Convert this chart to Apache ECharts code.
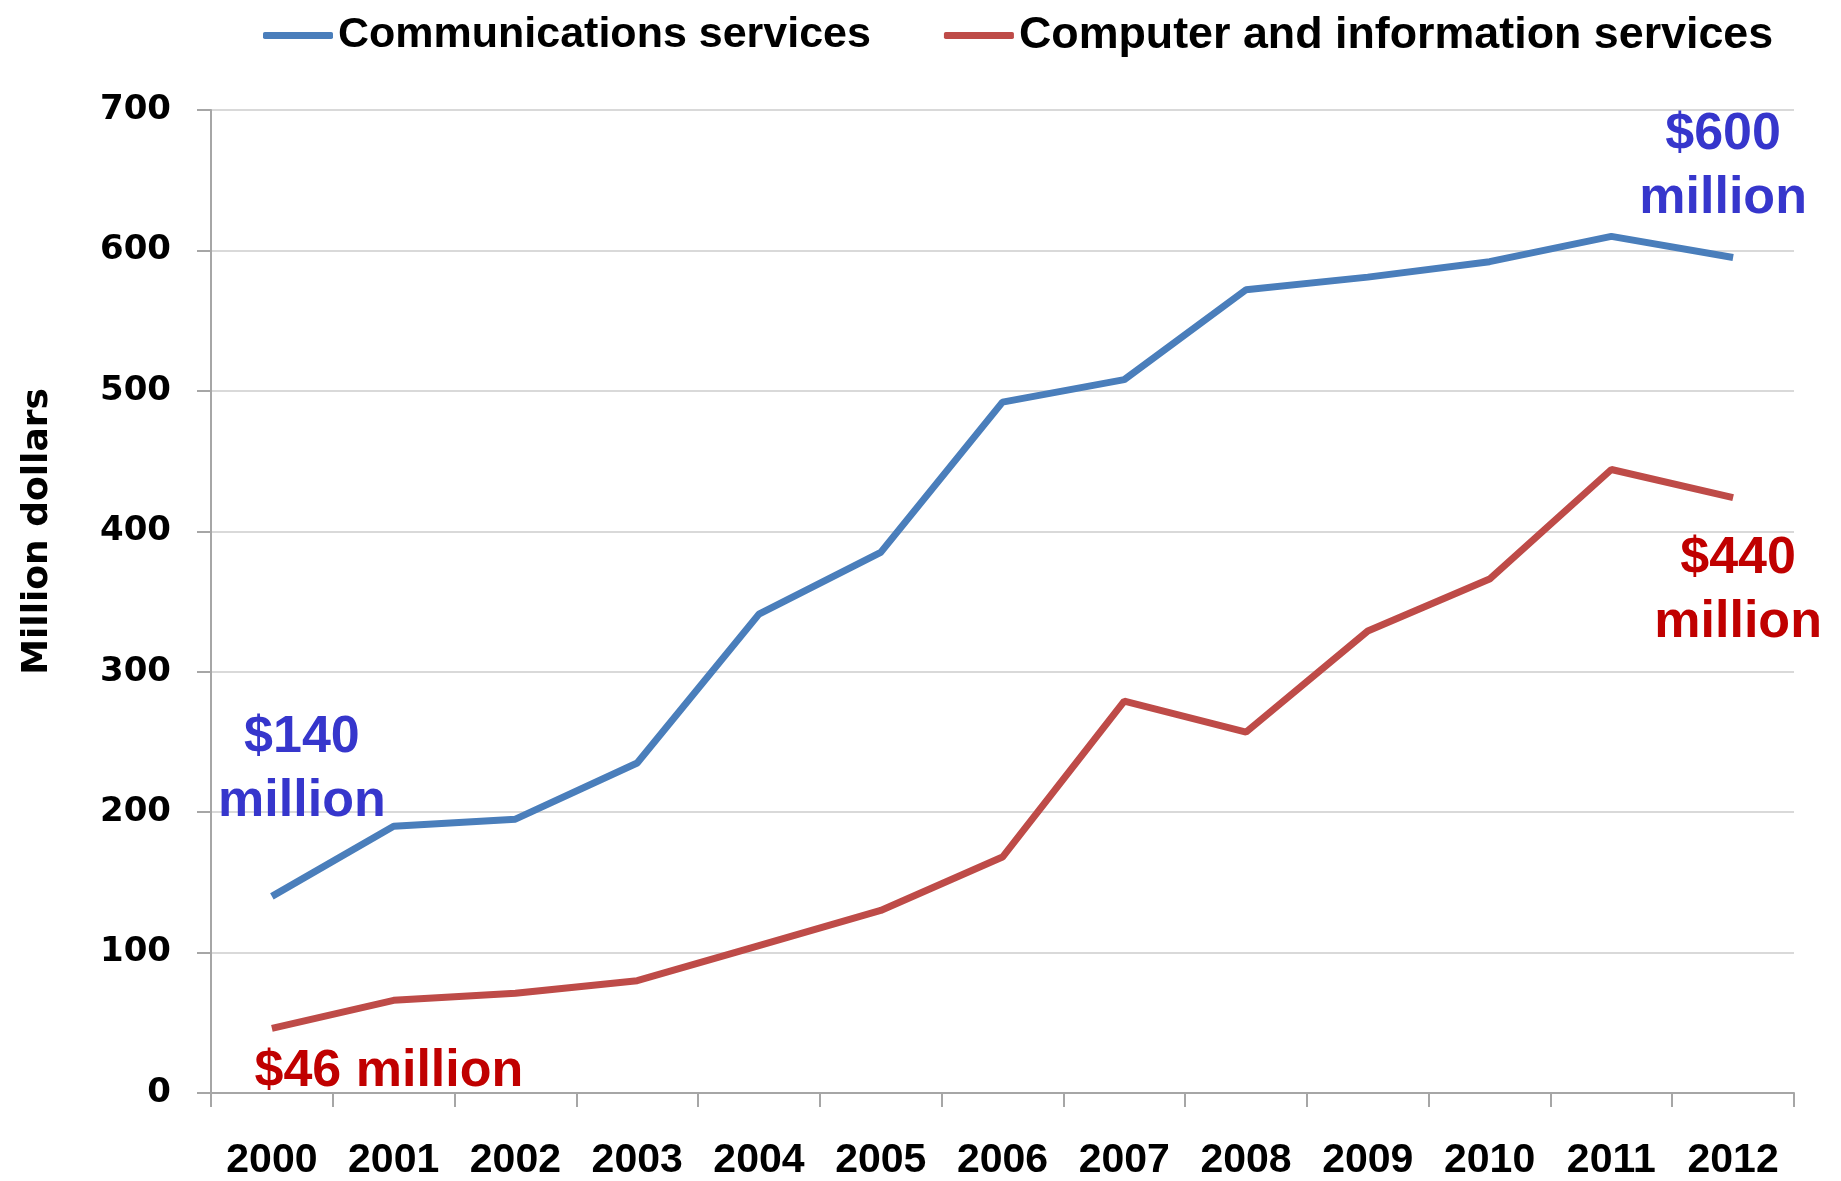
<!DOCTYPE html>
<html>
<head>
<meta charset="utf-8">
<script src="https://cdn.jsdelivr.net/npm/echarts@6/dist/echarts.min.js"></script>
<style>
html,body{margin:0;padding:0;background:#fff;}
#chart{width:1841px;height:1181px;}
</style>
</head>
<body>
<div id="chart"></div>
<script>
const years = ['2000','2001','2002','2003','2004','2005','2006','2007','2008','2009','2010','2011','2012'];
const communications = [140, 190, 195, 235, 341, 385, 492, 508, 572, 581, 592, 610, 595];
const computerInfo = [46, 66, 71, 80, 105, 130, 168, 279, 257, 329, 366, 444, 424];
const yTicks = [0, 100, 200, 300, 400, 500, 600, 700];
const seriesNames = ['Communications services', 'Computer and information services'];

const blueLine = '#4A7EBB';
const redLine = '#BE4B48';
const blueText = '#3636CC';
const redText = '#C00000';
const sans = '"Liberation Sans", Arial, sans-serif';
const dejavu = '"DejaVu Sans", Verdana, sans-serif';

const annLabel = (color, offset) => ({
  show: true, position: 'inside', offset: offset,
  color: color, fontFamily: sans,
  fontWeight: 'bold', fontSize: 52, lineHeight: 64, align: 'center', verticalAlign: 'middle'
});

const chart = echarts.init(document.getElementById('chart'));
chart.setOption({
  animation: false,
  backgroundColor: '#ffffff',
  legend: {
    left: 258, top: 8, width: 1570,
    itemWidth: 70, itemHeight: 7, itemGap: 73,
    icon: 'roundRect',
    textStyle: { fontFamily: sans, fontWeight: 'bold', fontSize: 43, color: '#000' },
    data: [
      { name: seriesNames[0], textStyle: { fontSize: 43 } },
      { name: seriesNames[1], textStyle: { fontSize: 44.8 } }
    ]
  },
  grid: { left: 211, right: 47, top: 110, bottom: 81, containLabel: false },
  xAxis: {
    type: 'category', data: years, boundaryGap: true,
    axisLine: { show: true, lineStyle: { color: '#A6A6A6', width: 2 } },
    axisTick: { show: true, interval: 0, length: 14, lineStyle: { color: '#A6A6A6', width: 2 } },
    axisLabel: { interval: 0, margin: 47, color: '#000', fontFamily: sans, fontWeight: 'bold', fontSize: 41 }
  },
  yAxis: {
    type: 'value', min: yTicks[0], max: yTicks[yTicks.length-1], interval: 100,
    name: 'Million dollars', nameLocation: 'middle', nameGap: 155, nameRotate: 90,
    nameTextStyle: { fontFamily: dejavu, fontWeight: 'bold', fontSize: 36, color: '#000', padding: [0, 0, 0, 140] },
    axisLine: { show: true, lineStyle: { color: '#A6A6A6', width: 2 } },
    axisTick: { show: true, length: 14, lineStyle: { color: '#A6A6A6', width: 2 } },
    axisLabel: { margin: 40, color: '#000', fontFamily: dejavu, fontWeight: 'bold', fontSize: 34 },
    splitLine: { show: true, lineStyle: { color: '#D9D9D9', width: 2 } }
  },
  series: [
    {
      name: seriesNames[0], type: 'line', data: communications, symbol: 'none',
      lineStyle: { color: blueLine, width: 7 }, itemStyle: { color: blueLine },
      markPoint: {
        symbol: 'rect', symbolSize: 0, silent: true,
        data: [
          { coord: [years[0], communications[0]], value: '$140\nmillion', label: annLabel(blueText, [30, -127]) },
          { coord: [years[12], communications[12]], value: '$600\nmillion', label: annLabel(blueText, [-10, -91]) }
        ],
        label: { formatter: p => p.value }
      }
    },
    {
      name: seriesNames[1], type: 'line', data: computerInfo, symbol: 'none',
      lineStyle: { color: redLine, width: 7 }, itemStyle: { color: redLine },
      markPoint: {
        symbol: 'rect', symbolSize: 0, silent: true,
        data: [
          { coord: [years[0], computerInfo[0]], value: '$46 million', label: annLabel(redText, [117, 43]) },
          { coord: [years[12], computerInfo[12]], value: '$440\nmillion', label: annLabel(redText, [5, 93]) }
        ],
        label: { formatter: p => p.value }
      }
    }
  ]
});
</script>
</body>
</html>
